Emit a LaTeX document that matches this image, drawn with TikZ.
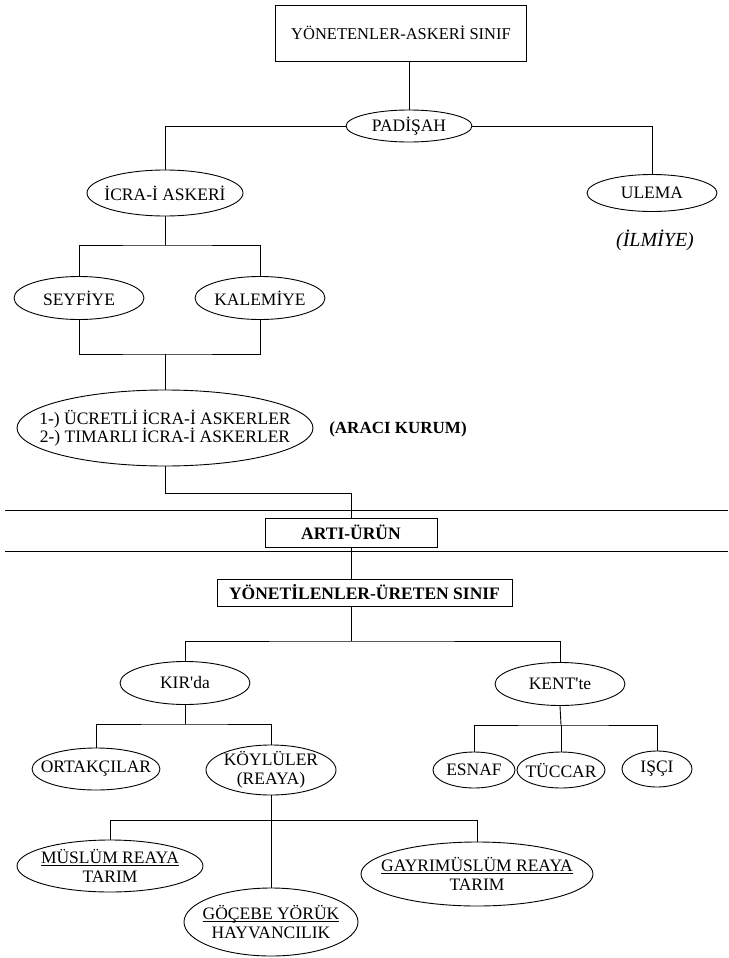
\documentclass[tikz,border=0pt]{standalone}
\usepackage{fontspec}
\setmainfont{Liberation Serif}
\usetikzlibrary{shapes.geometric}
\newcommand{\undl}[1]{\underline{\smash{#1}}\vphantom{Ö}}
\tikzset{
  ell/.style={draw, ellipse, inner sep=0pt},
  lab/.style={align=center, inner sep=0pt, font=\fontsize{17.5}{18.5}\selectfont},
  etext/.style={label={[lab]center:{#1}}},
  boxn/.style={draw, rectangle, inner sep=0pt, align=center},
}
\begin{document}
\begin{tikzpicture}[x=1pt,y=-1pt,line width=0.9pt]
\useasboundingbox (0,0) rectangle (728,958);
% nodes
\node[boxn, minimum width=251, minimum height=56, font=\fontsize{16.5}{17}\selectfont] (title) at (401,33) {YÖNETENLER-ASKERİ SINIF};
\node[ell, minimum width=126, minimum height=32, etext={PADİŞAH}] (padisah) at (409,126) {};
\node[ell, minimum width=156, minimum height=46, etext={İCRA-İ ASKERİ}] (icra) at (165,193) {};
\node[ell, minimum width=130, minimum height=37, etext={ULEMA}] (ulema) at (652,193) {};
\node[font=\fontsize{20}{20}\selectfont\itshape] (ilmiye) at (655,240) {(İLMİYE)};
\node[ell, minimum width=130, minimum height=43, etext={SEYFİYE}] (seyfiye) at (79,298) {};
\node[ell, minimum width=130, minimum height=43, etext={KALEMİYE}] (kalemiye) at (260,298) {};
\node[ell, minimum width=296, minimum height=76, etext={1-) ÜCRETLİ İCRA-İ ASKERLER\\2-) TIMARLI İCRA-İ ASKERLER}] (big) at (165,428) {};
\node[font=\fontsize{17}{17}\selectfont\bfseries] (araci) at (398,429) {(ARACI KURUM)};
\node[boxn, minimum width=172, minimum height=29, font=\fontsize{17.5}{18}\selectfont\bfseries] (arti) at (351,532.5) {ARTI-ÜRÜN};
\node[boxn, minimum width=295, minimum height=27, font=\fontsize{17.5}{18}\selectfont\bfseries] (yonet) at (364.5,592.5) {YÖNETİLENLER-ÜRETEN SINIF};
\node[ell, minimum width=130, minimum height=43, etext={KIR\textquotesingle da}] (kir) at (185,683) {};
\node[ell, minimum width=130, minimum height=43, etext={KENT\textquotesingle te}] (kent) at (560,684) {};
\node[ell, minimum width=128, minimum height=42, etext={ORTAKÇILAR}] (ortak) at (96,769) {};
\node[ell, minimum width=130, minimum height=50, etext={KÖYLÜLER\\(REAYA)}] (koylu) at (271,770) {};
\node[ell, minimum width=82, minimum height=36, etext={ESNAF}] (esnaf) at (474,770) {};
\node[ell, minimum width=88, minimum height=36, etext={TÜCCAR}] (tuccar) at (561,770) {};
\node[ell, minimum width=70, minimum height=36, etext={IŞÇI}] (isci) at (657,769) {};
\node[ell, minimum width=186, minimum height=52, etext={\undl{MÜSLÜM REAYA}\\TARIM}] (muslum) at (110,866) {};
\node[ell, minimum width=174, minimum height=68, etext={\undl{GÖÇEBE YÖRÜK}\\HAYVANCILIK}] (gocebe) at (271,922) {};
\node[ell, minimum width=232, minimum height=64, etext={\undl{GAYRIMÜSLÜM REAYA}\\TARIM}] (gayri) at (477,874) {};
% junction coordinates
\coordinate (j1) at (165,245);
\coordinate (j2) at (165,354);
\coordinate (j3) at (165,493);
\coordinate (j4) at (351,641);
\coordinate (j5) at (185,724);
\coordinate (j6) at (561,725);
\coordinate (j7) at (271,820);
\coordinate (l1a) at (5,510);
\coordinate (l1b) at (728,510);
\coordinate (l2a) at (5,551);
\coordinate (l2b) at (728,551);
% connectors
\draw (padisah.north) -- (padisah.north |- title.south);
\draw (padisah.west) -| (icra.north);
\draw (padisah.east) -| (ulema.north);
\draw (icra.south) -- (j1);
\draw (seyfiye.north) |- (j1) -| (kalemiye.north);
\draw (seyfiye.south) |- (j2) -| (kalemiye.south);
\draw (big.north) -- (j2);
\draw (big.south) -- (j3) -| (arti.north);
\draw (l1a) -- (l1b);
\draw (l2a) -- (l2b);
\draw (arti.south) -- (arti.south |- yonet.north);
\draw (arti.south |- yonet.south) -- (j4);
\draw (kir.north) |- (j4) -| (kent.north);
\draw (kir.south) -- (j5);
\draw (ortak.north) |- (j5) -| (koylu.north);
\draw (kent.south) -- (j6);
\draw (esnaf.north) |- (j6) -| (isci.north);
\draw (tuccar.north) -- (j6);
\draw (koylu.south) -- (gocebe.north);
\draw (muslum.north) |- (j7) -| (gayri.north);
\end{tikzpicture}
\end{document}
